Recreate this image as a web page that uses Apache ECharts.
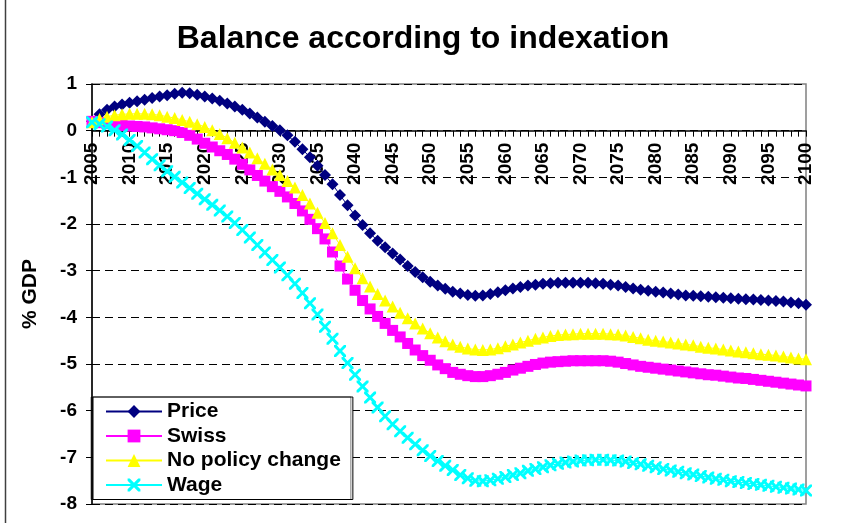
<!DOCTYPE html>
<html>
<head>
<meta charset="utf-8">
<script src="https://cdn.jsdelivr.net/npm/echarts@6/dist/echarts.min.js"></script>
<style>
html,body{margin:0;padding:0;background:#fff;}
#c{width:846px;height:523px;}
</style>
</head>
<body>
<div id="c"></div>
<script>
var years = [];
for (var y = 2005; y <= 2100; y++) years.push(String(y));

var price = [0.20,0.35,0.45,0.52,0.56,0.60,0.63,0.66,0.70,0.73,
0.76,0.79,0.81,0.80,0.77,0.73,0.69,0.64,0.58,0.52,
0.45,0.37,0.28,0.19,0.10,0.01,-0.10,-0.24,-0.40,-0.57,
-0.75,-0.95,-1.15,-1.38,-1.60,-1.82,-2.02,-2.20,-2.36,-2.50,
-2.63,-2.76,-2.90,-3.03,-3.14,-3.24,-3.32,-3.39,-3.45,-3.49,
-3.52,-3.54,-3.53,-3.50,-3.46,-3.42,-3.38,-3.35,-3.32,-3.30,
-3.28,-3.27,-3.26,-3.26,-3.26,-3.26,-3.26,-3.27,-3.28,-3.30,
-3.32,-3.35,-3.38,-3.41,-3.43,-3.45,-3.47,-3.49,-3.51,-3.53,
-3.54,-3.55,-3.56,-3.57,-3.58,-3.59,-3.60,-3.61,-3.62,-3.63,
-3.64,-3.65,-3.66,-3.68,-3.70,-3.73];

var swiss = [0.20,0.17,0.15,0.13,0.11,0.10,0.09,0.08,0.06,0.04,
0.02,0.00,-0.04,-0.10,-0.18,-0.27,-0.35,-0.43,-0.51,-0.61,
-0.72,-0.84,-0.96,-1.08,-1.20,-1.30,-1.42,-1.56,-1.72,-1.90,
-2.10,-2.32,-2.60,-2.90,-3.18,-3.42,-3.64,-3.82,-3.98,-4.13,
-4.28,-4.42,-4.56,-4.70,-4.82,-4.92,-5.02,-5.10,-5.18,-5.22,
-5.25,-5.27,-5.27,-5.25,-5.22,-5.18,-5.13,-5.09,-5.05,-5.01,
-4.98,-4.96,-4.95,-4.94,-4.93,-4.93,-4.93,-4.93,-4.93,-4.94,
-4.96,-4.99,-5.02,-5.05,-5.07,-5.09,-5.11,-5.13,-5.15,-5.17,
-5.19,-5.21,-5.23,-5.24,-5.26,-5.28,-5.30,-5.31,-5.33,-5.35,
-5.37,-5.39,-5.41,-5.43,-5.45,-5.47];

var noPolicy = [0.18,0.25,0.30,0.33,0.35,0.36,0.36,0.36,0.35,0.33,
0.30,0.27,0.23,0.19,0.14,0.08,0.01,-0.07,-0.16,-0.26,
-0.36,-0.47,-0.59,-0.71,-0.83,-0.95,-1.08,-1.22,-1.38,-1.56,
-1.76,-1.98,-2.20,-2.45,-2.70,-2.95,-3.16,-3.34,-3.50,-3.64,
-3.77,-3.90,-4.02,-4.13,-4.24,-4.34,-4.43,-4.51,-4.58,-4.63,
-4.67,-4.69,-4.70,-4.69,-4.66,-4.62,-4.58,-4.54,-4.50,-4.46,
-4.43,-4.40,-4.38,-4.37,-4.36,-4.35,-4.35,-4.35,-4.35,-4.36,
-4.37,-4.39,-4.42,-4.45,-4.48,-4.50,-4.52,-4.54,-4.56,-4.58,
-4.60,-4.63,-4.65,-4.67,-4.69,-4.71,-4.73,-4.75,-4.77,-4.79,
-4.80,-4.82,-4.84,-4.86,-4.88,-4.90];

var wage = [0.18,0.14,0.09,0.01,-0.08,-0.20,-0.33,-0.47,-0.61,-0.74,
-0.87,-0.99,-1.11,-1.23,-1.35,-1.47,-1.59,-1.71,-1.84,-1.98,
-2.13,-2.29,-2.45,-2.61,-2.77,-2.93,-3.10,-3.28,-3.48,-3.70,
-3.94,-4.20,-4.46,-4.72,-4.98,-5.23,-5.48,-5.72,-5.93,-6.12,
-6.29,-6.44,-6.58,-6.72,-6.85,-6.97,-7.08,-7.18,-7.27,-7.38,
-7.45,-7.50,-7.51,-7.49,-7.46,-7.42,-7.38,-7.34,-7.29,-7.25,
-7.21,-7.17,-7.14,-7.11,-7.09,-7.07,-7.06,-7.05,-7.05,-7.06,
-7.07,-7.09,-7.12,-7.15,-7.18,-7.21,-7.25,-7.28,-7.31,-7.34,
-7.37,-7.40,-7.43,-7.46,-7.48,-7.51,-7.53,-7.55,-7.57,-7.59,
-7.61,-7.63,-7.65,-7.67,-7.69,-7.71];

var seriesNames = ['Price', 'Swiss', 'No policy change', 'Wage'];
var titleText = 'Balance according to indexation';
var yTitle = '% GDP';
var yMin = -8, yMax = 1, yStep = 1;

var FONT = "'Liberation Sans', Arial, sans-serif";
var xPath = 'path://M0,0 L1.7,0 L5,3.3 L8.3,0 L10,0 L10,1.7 L6.7,5 L10,8.3 L10,10 L8.3,10 L5,6.7 L1.7,10 L0,10 L0,8.3 L3.3,5 L0,1.7 Z';

var gridTop = 84, gridBottom = 19, chartH = 523;
var plotH = chartH - gridTop - gridBottom;
// distance from the bottom edge of the plot to the zero line
var zeroOffset = plotH * (0 - yMin) / (yMax - yMin);

function mk(name, data, color, symbol, size) {
  return {
    name: name, type: 'line', data: data,
    symbol: symbol, symbolSize: size, showSymbol: true, showAllSymbol: true,
    lineStyle: { color: color, width: 1 },
    itemStyle: { color: color, borderWidth: 0 },
    animation: false
  };
}

var chart = echarts.init(document.getElementById('c'), null, { renderer: 'canvas' });
chart.setOption({
  backgroundColor: '#ffffff',
  animation: false,
  title: {
    text: titleText, left: 'center', top: 18,
    textStyle: { fontFamily: FONT, fontSize: 32, fontWeight: 'bold', color: '#000' }
  },
  grid: {
    left: 92, right: 40, top: gridTop, bottom: gridBottom,
    show: true, borderColor: '#808080', borderWidth: 1.5, backgroundColor: '#fff'
  },
  legend: {
    orient: 'vertical', left: 93, top: 397,
    itemWidth: 56, itemHeight: 16, itemGap: 3.5,
    padding: [4, 12, 4, 12],
    backgroundColor: '#fff', borderColor: '#000', borderWidth: 1,
    shadowColor: 'rgba(0,0,0,0.5)', shadowOffsetX: -2, shadowOffsetY: 0, shadowBlur: 0,
    textStyle: { fontFamily: FONT, fontSize: 21, fontWeight: 'bold', color: '#000' },
    data: seriesNames
  },
  xAxis: {
    type: 'category', data: years, boundaryGap: false,
    position: 'bottom', offset: -zeroOffset,
    axisLine: { onZero: false, lineStyle: { color: '#000', width: 1.5 } },
    axisTick: { interval: 0, length: 6, lineStyle: { color: '#000' } },
    axisLabel: { interval: 4, rotate: 90, margin: 12, fontFamily: FONT, fontSize: 19, fontWeight: 'bold', color: '#000' },
    splitLine: { show: false }
  },
  yAxis: {
    type: 'value', min: yMin, max: yMax, interval: yStep,
    name: yTitle, nameLocation: 'middle', nameRotate: 90, nameGap: 51,
    nameTextStyle: { fontFamily: FONT, fontSize: 21, fontWeight: 'bold', color: '#000' },
    axisLine: { show: true, lineStyle: { color: '#000', width: 1.5 } },
    axisTick: { show: true, length: 6, lineStyle: { color: '#000' } },
    axisLabel: { margin: 15, fontFamily: FONT, fontSize: 19, fontWeight: 'bold', color: '#000' },
    splitLine: { show: true, lineStyle: { color: '#000', type: [8, 5], width: 1 } }
  },
  series: [
    mk(seriesNames[0], price, '#000080', 'diamond', 12),
    mk(seriesNames[1], swiss, '#FF00FF', 'rect', 11),
    mk(seriesNames[2], noPolicy, '#FFFF00', 'triangle', 12),
    mk(seriesNames[3], wage, '#00FFFF', xPath, 12)
  ],
  graphic: [
    { type: 'rect', left: 3, top: -4, z: 100, silent: true,
      shape: { width: 842, height: 531 },
      style: { fill: 'none', stroke: '#404040', lineWidth: 1.5 } }
  ]
});
</script>
</body>
</html>
